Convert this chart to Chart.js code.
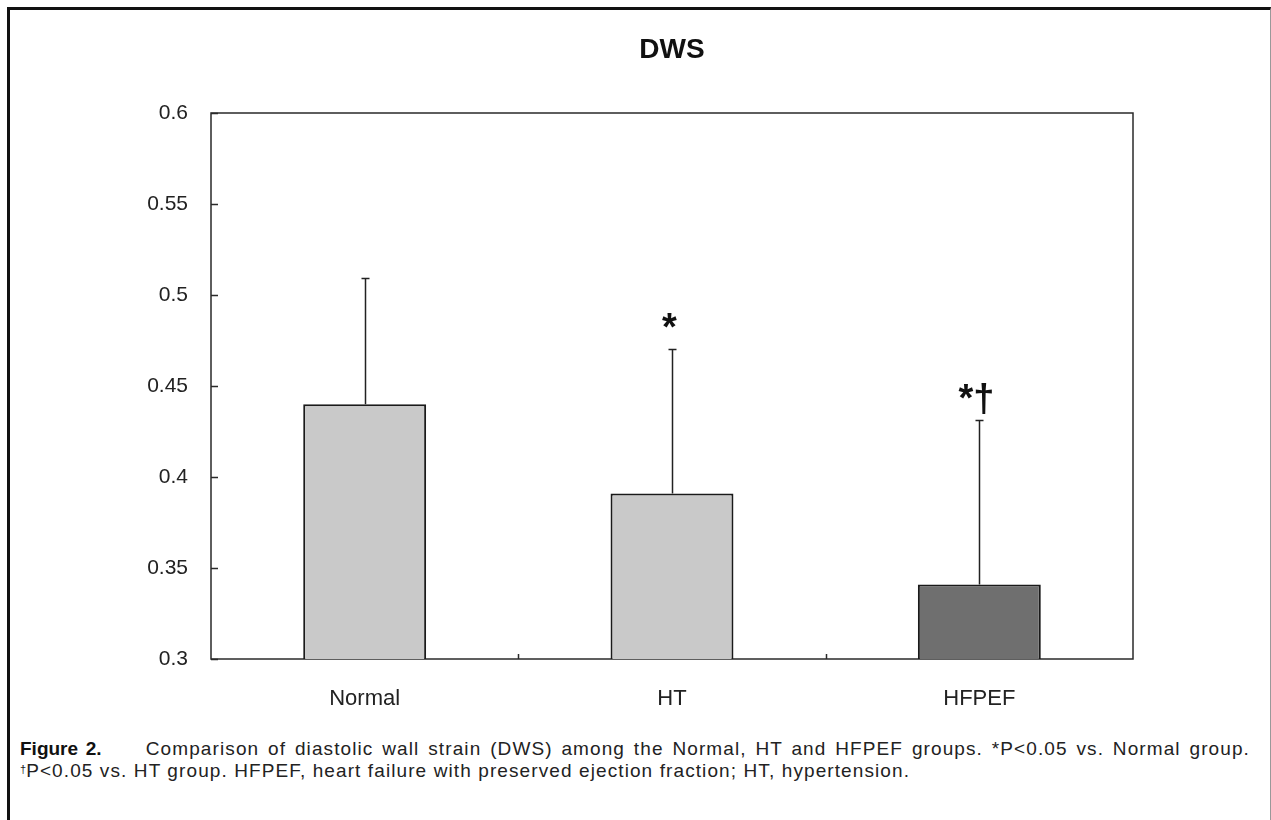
<!DOCTYPE html>
<html>
<head>
<meta charset="utf-8">
<script src="https://cdn.jsdelivr.net/npm/chart.js@4"></script>
<style>
  html, body { margin: 0; padding: 0; background: #fff; }
  body { width: 1271px; height: 820px; overflow: hidden; position: relative; }
  #frame {
    position: absolute; left: 7px; top: 7px; width: 1260px; height: 840px;
    border-left: 3px solid #111; border-top: 3px solid #111; border-right: 1px solid #999;
  }
  #wrap { position: absolute; left: 0; top: 0; width: 1271px; height: 720px; }
  #caption {
    position: absolute; left: 20px; top: 738px; width: 1230px;
    font-family: "Liberation Sans", Arial, sans-serif; font-size: 19px; line-height: 21px;
    color: #222; letter-spacing: 1.1px; white-space: nowrap;
  }
  #caption .l1 { text-align: justify; text-align-last: justify; white-space: normal; }
  #caption b {
    font-family: "Liberation Sans Narrow", "Arial Narrow", sans-serif; font-size: 19px;
    letter-spacing: 0; color: #111;
  }
  #caption sup { font-size: 11px; vertical-align: 4px; letter-spacing: 0; }
</style>
</head>
<body>
<div id="frame"></div>
<div id="wrap"><canvas id="dwsChart" width="1271" height="720"></canvas></div>
<div id="caption">
  <div class="l1"><b>Figure 2.</b>&nbsp;&nbsp;&nbsp;&nbsp; Comparison of diastolic wall strain (DWS) among the Normal, HT and HFPEF groups. *P&lt;0.05 vs. Normal group.</div>
  <div><sup>†</sup>P&lt;0.05 vs. HT group. HFPEF, heart failure with preserved ejection fraction; HT, hypertension.</div>
</div>
<script>
const groups = ['Normal', 'HT', 'HFPEF']
const means = [0.44, 0.391, 0.341]
const sds = [0.069, 0.079, 0.090]
const marks = ['', '*', '*†']
const barColors = ['#c9c9c9', '#c9c9c9', '#6f6f6f']

const yMin = 0.3
const yMax = 0.6
const yStep = 0.05

const axisColor = '#2a2a2a'

// box around the plot area plus the little inward tick marks
const plotFrame = {
  id: 'plotFrame',
  beforeDatasetsDraw(chart) {
    const { ctx, chartArea: a, scales: { x, y } } = chart
    ctx.save()
    ctx.strokeStyle = axisColor
    ctx.lineWidth = 1.5
    ctx.strokeRect(a.left, a.top, a.right - a.left, a.bottom - a.top)
    ctx.beginPath()
    y.ticks.forEach(t => {
      const py = Math.round(y.getPixelForValue(t.value)) + 0.5
      ctx.moveTo(a.left, py)
      ctx.lineTo(a.left + 7, py)
    })
    for (let i = 0; i < groups.length - 1; i++) {
      const px = Math.round(x.getPixelForValue(i + 0.5)) + 0.5
      ctx.moveTo(px, a.bottom)
      ctx.lineTo(px, a.bottom - 5)
    }
    ctx.stroke()
    ctx.restore()
  }
}

// upper SD whiskers and significance marks
const errorBars = {
  id: 'errorBars',
  afterDatasetsDraw(chart) {
    const { ctx, scales: { x, y } } = chart
    ctx.save()
    ctx.strokeStyle = '#222'
    ctx.lineWidth = 1.5
    groups.forEach((g, i) => {
      const px = Math.round(x.getPixelForValue(i)) + 0.5
      const y0 = y.getPixelForValue(means[i])
      const y1 = y.getPixelForValue(means[i] + sds[i])
      ctx.beginPath()
      ctx.moveTo(px, y0)
      ctx.lineTo(px, y1)
      ctx.moveTo(px - 4, y1)
      ctx.lineTo(px + 4, y1)
      ctx.stroke()
      if (marks[i]) {
        ctx.fillStyle = '#111'
        ctx.font = 'bold 38px "Liberation Sans", Arial, sans-serif'
        ctx.textAlign = 'center'
        ctx.textBaseline = 'alphabetic'
        ctx.fillText(marks[i], px - 3, y1 - 10)
      }
    })
    ctx.restore()
  }
}

new Chart(document.getElementById('dwsChart'), {
  type: 'bar',
  data: {
    labels: groups,
    datasets: [{
      data: means,
      backgroundColor: barColors,
      borderColor: '#1a1a1a',
      borderWidth: 2,
      borderSkipped: false,
      barPercentage: 0.4,
      categoryPercentage: 1
    }]
  },
  options: {
    responsive: false,
    animation: false,
    layout: { padding: { left: 0, right: 138, top: 0, bottom: 0 } },
    plugins: {
      legend: { display: false },
      tooltip: { enabled: false },
      title: {
        display: true,
        fullSize: false,
        text: 'DWS',
        color: '#111',
        font: { family: '"Liberation Sans", Arial, sans-serif', size: 28, weight: 'bold' },
        padding: { top: 33, bottom: 46.4 }
      }
    },
    scales: {
      x: {
        grid: { display: false, drawTicks: false },
        border: { display: false },
        ticks: {
          color: '#222',
          padding: 27,
          font: { family: '"Liberation Sans", Arial, sans-serif', size: 22 }
        },
        afterFit(scale) { scale.height = 61 }
      },
      y: {
        min: yMin,
        max: yMax,
        grid: { display: false, drawTicks: false },
        border: { display: false },
        ticks: {
          stepSize: yStep,
          color: '#222',
          padding: 23,
          font: { family: '"Liberation Sans", Arial, sans-serif', size: 21 },
          callback: v => String(Math.round(v * 100) / 100)
        },
        afterFit(scale) { scale.width = 211 }
      }
    }
  },
  plugins: [plotFrame, errorBars]
})
</script>
</body>
</html>
